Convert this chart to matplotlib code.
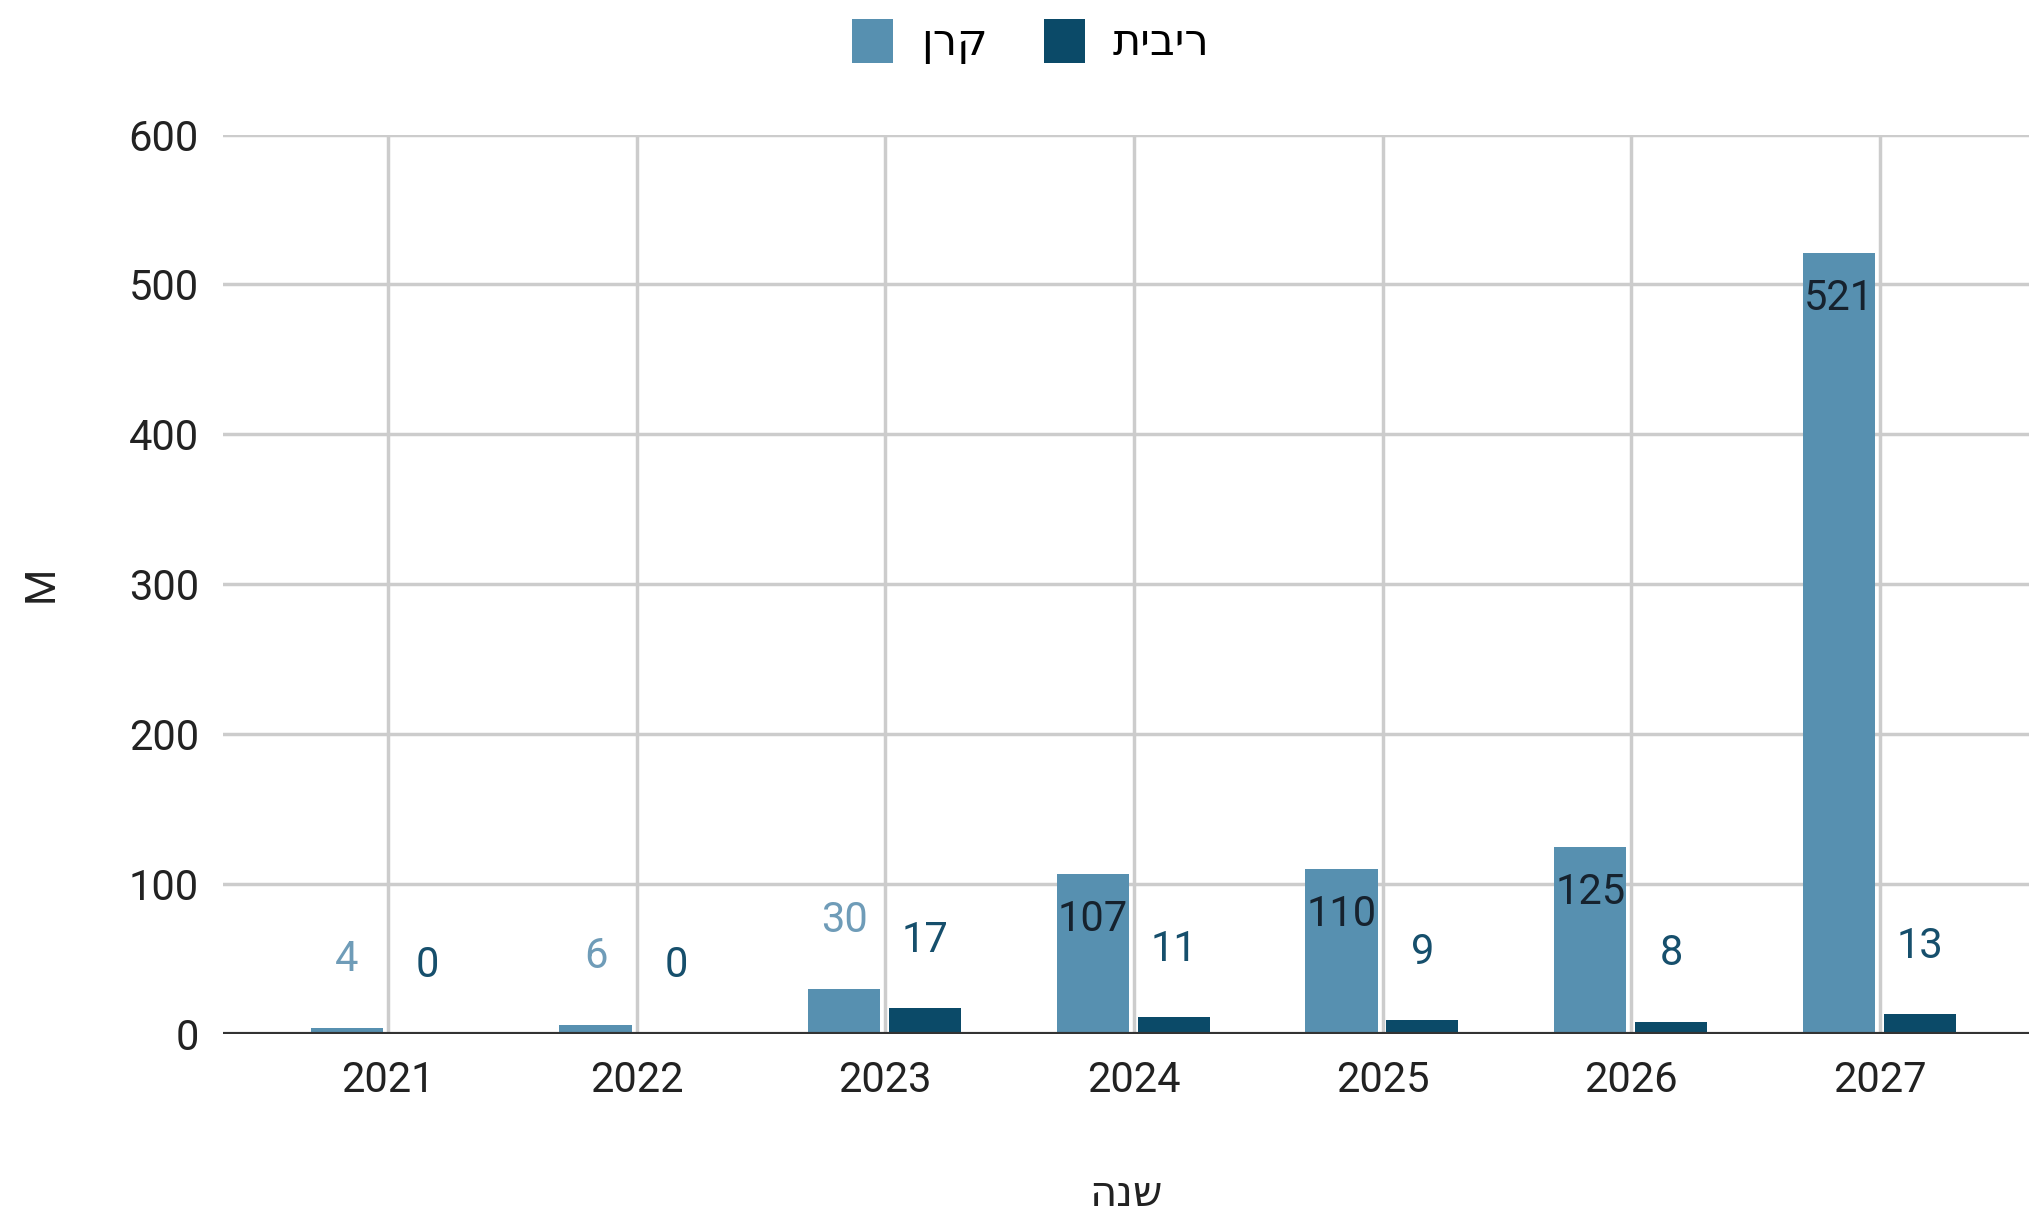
import matplotlib.pyplot as plt
import numpy as np

years = ["2021", "2022", "2023", "2024", "2025", "2026", "2027"]
keren = [4, 6, 30, 107, 110, 125, 521]
ribit = [0, 0, 17, 11, 9, 8, 13]
series_names = ["קרן", "ריבית"]
x_title = "שנה"
y_title = "M"


def rtl(s):
    # matplotlib has no bidi support, so flip hebrew for display
    return s[::-1]


c_keren = "#5790b0"
c_ribit = "#0b4a68"
fonts = ["Roboto", "DejaVu Sans"]
plt.rcParams["font.family"] = fonts
fs = 30

fig = plt.figure(figsize=(20.29, 12.17), dpi=100)
ax = fig.add_axes([0.1097, 0.1504, 0.8903, 0.739])

x = np.arange(len(years))
w = 0.29
b1 = ax.bar(x - 0.165, keren, w, color=c_keren, label=rtl(series_names[0]), zorder=3)
b2 = ax.bar(x + 0.16, ribit, w, color=c_ribit, label=rtl(series_names[1]), zorder=3)

for rect, v in zip(b1, keren):
    cx = rect.get_x() + rect.get_width() / 2
    if v >= 50:
        ax.annotate(str(v), (cx, v), xytext=(0, -33), textcoords="offset points",
                    ha="center", va="center", fontsize=fs, color="#16222e", zorder=4)
    else:
        ax.annotate(str(v), (cx, v), xytext=(0, 49), textcoords="offset points",
                    ha="center", va="center", fontsize=fs, color="#6f9cb8", zorder=4)
for rect, v in zip(b2, ribit):
    cx = rect.get_x() + rect.get_width() / 2
    ax.annotate(str(v), (cx, v), xytext=(0, 49), textcoords="offset points",
                ha="center", va="center", fontsize=fs, color="#164f6c", zorder=4)

ax.set_ylim(0, 600)
ax.set_xlim(-0.665, 6.6)
ax.set_yticks(range(0, 601, 100))
ax.set_xticks(x)
ax.set_xticklabels(years)
ax.tick_params(axis="both", length=0, labelsize=fs, colors="#222222")
ax.tick_params(axis="y", pad=17)
ax.tick_params(axis="x", pad=19)
ax.grid(True, color="#cccccc", linewidth=2.5, zorder=0)
ax.axhline(0, color="#333333", linewidth=3, zorder=5)
for s in ax.spines.values():
    s.set_visible(False)

ax.set_xlabel(rtl(x_title), fontsize=fs, color="#222222", labelpad=52)
ax.set_ylabel(y_title, fontsize=fs, color="#222222")
ax.yaxis.set_label_coords(-0.089, 0.5)

fig.legend(loc="center", bbox_to_anchor=(0.508, 0.966), ncol=2, frameon=False,
           fontsize=31, handlelength=0.95, handleheight=1.2, handletextpad=0.65,
           columnspacing=1.3)

fig.savefig("out.png", dpi=100)
plt.close()
